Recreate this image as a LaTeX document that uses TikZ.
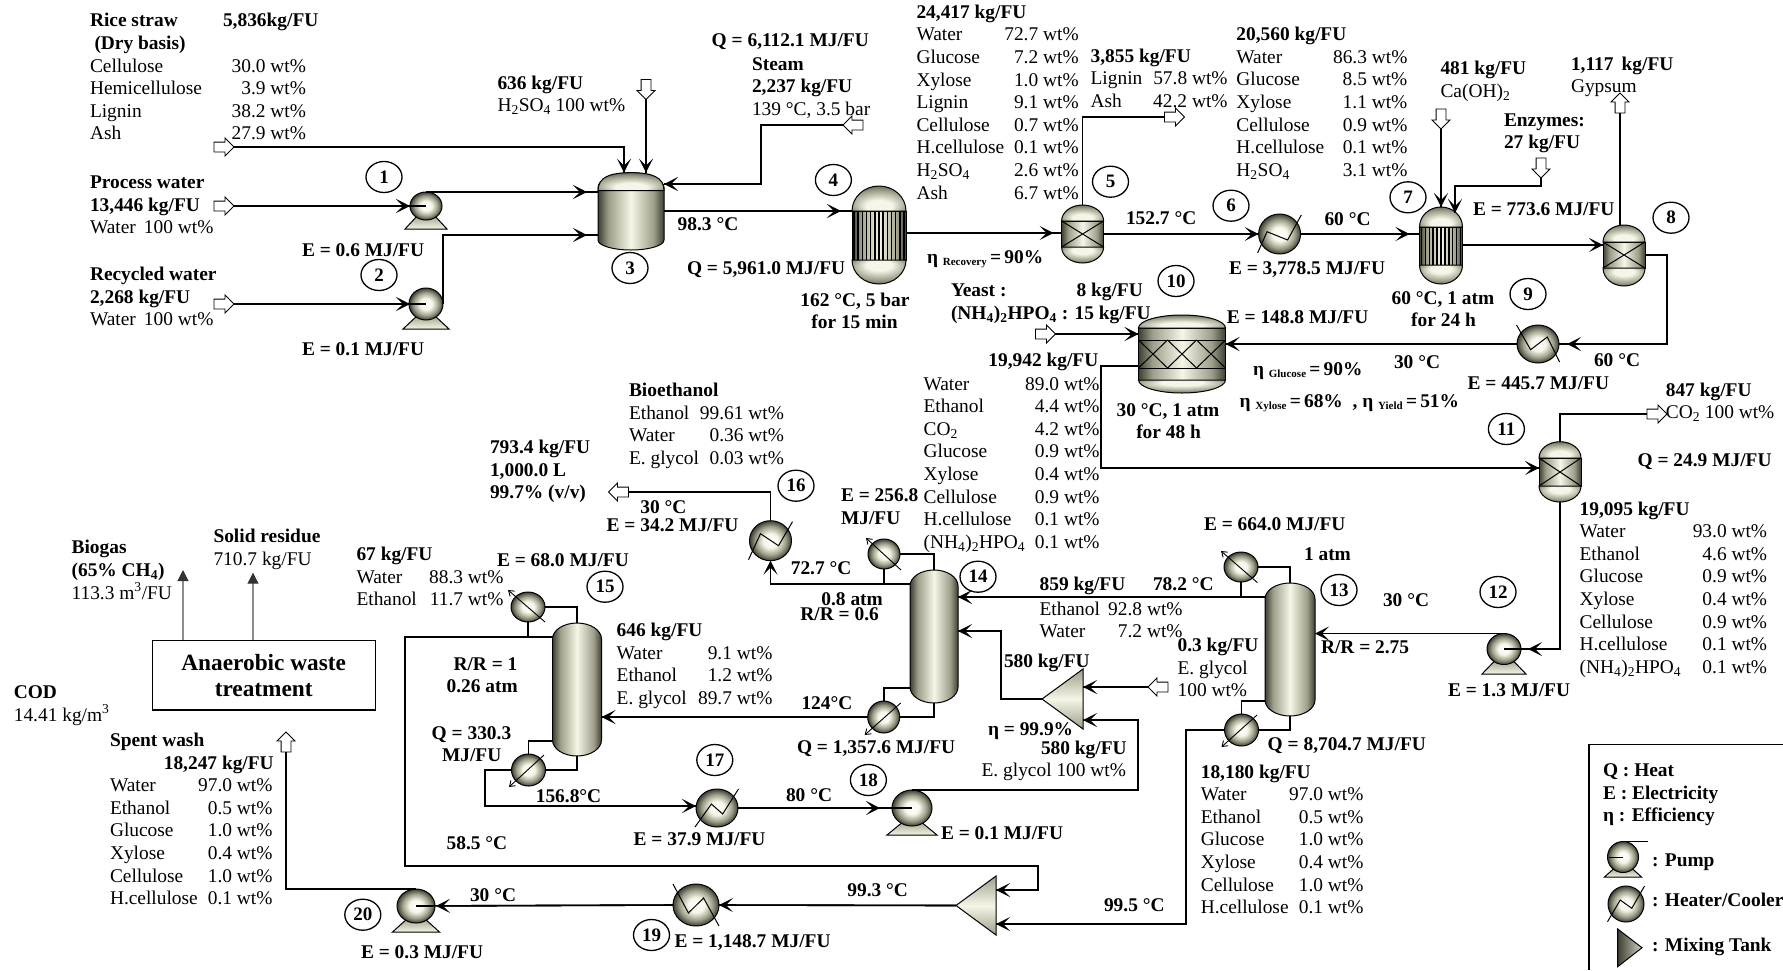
\documentclass[tikz,border=0pt]{standalone}
\usepackage{fontspec}
\setmainfont{Liberation Serif}
\usetikzlibrary{arrows.meta,shapes.geometric,shapes.arrows}
\definecolor{eqk}{HTML}{3E3E32}
\definecolor{eqm}{HTML}{9E9E8A}
\definecolor{eql}{HTML}{F6F6E8}
\pgfdeclarehorizontalshading{eqcyl}{100bp}{color(0bp)=(eqk); color(25bp)=(eqk); color(33bp)=(eqm); color(50bp)=(eql); color(67bp)=(eqm); color(75bp)=(eqk); color(100bp)=(eqk)}
\pgfdeclareradialshading{eqheadT}{\pgfpoint{0bp}{-20bp}}{color(0bp)=(eql); color(12bp)=(eql); color(26bp)=(eqm); color(38bp)=(eqk); color(50bp)=(eqk)}
\pgfdeclareradialshading{eqheadB}{\pgfpoint{0bp}{20bp}}{color(0bp)=(eql); color(12bp)=(eql); color(26bp)=(eqm); color(38bp)=(eqk); color(50bp)=(eqk)}
\pgfdeclareradialshading{eqball}{\pgfpoint{0bp}{0bp}}{color(0bp)=(white); color(9bp)=(eql); color(18bp)=(eqm); color(25bp)=(eqk); color(50bp)=(eqk)}
\tikzset{
  lab/.style={inner sep=0pt,outer sep=0pt,font=\fontsize{19.4}{22.6}\selectfont},
  eqbox/.style={rectangle,inner sep=0pt,outer sep=0pt},
  ballnode/.style={ellipse,inner sep=0pt,outer sep=0pt,draw=black,line width=1pt,shade,shading=eqball},
  pipe/.style={line width=1.6pt,draw=black},
  gf/.style={pipe,postaction={draw,shorten >=#1pt,-{Stealth[length=14pt,width=14pt,inset=7pt]}}},
  oarrow/.style={single arrow,draw=black,fill=white,line width=0.9pt,inner xsep=0pt,inner ysep=4.5pt,outer sep=0pt,minimum height=20pt,single arrow head extend=4pt,single arrow head indent=0pt},
  tagc/.style={ellipse,draw=black,line width=1.3pt,inner sep=0pt,minimum width=36pt,minimum height=31pt,font=\fontsize{19}{19}\selectfont\bfseries},
  diag/.style={line width=0.9pt,-{Straight Barb[length=5pt,width=7pt]}},
  zig/.style={line width=1pt},
  grayflow/.style={line width=1.1pt,draw=gray!90,-{Triangle[length=11pt,width=11pt,color=black!80]}}
}
\newcommand{\hso}{H\textsubscript{2}SO\textsubscript{4}}
\newcommand{\nhp}{(NH\textsubscript{4})\textsubscript{2}HPO\textsubscript{4}}
\newcommand{\esub}[1]{\raisebox{-2.5pt}{\fontsize{11}{11}\selectfont #1}}
\newcommand{\lbB}[4]{\node[lab,anchor=base west] (#1) at (#2,#3) {\textbf{#4}};}
\newcommand{\lbR}[4]{\node[lab,anchor=base west] (#1) at (#2,#3) {#4};}
\newcommand{\lbC}[4]{\node[lab,anchor=base] (#1) at (#2,#3) {\textbf{#4}};}
\newcommand{\blk}[5]{\node[lab,anchor=north west] (#1) at (#2,{#3-15.82}) {\begin{tabular*}{#4pt}{@{}l@{\extracolsep{\fill}}r@{}}#5\end{tabular*}};}
\newcommand{\hd}[1]{\multicolumn{2}{@{}l@{}}{\textbf{#1}}\\}
\newcommand{\tg}[4]{\node[tagc] (#1) at (#2,#3) {#4};}
% name cx top bandtop bandbot bot halfwidth
\newcommand{\eqv}[7]{%
  \pgfmathsetmacro\hdA{#4-#3}\pgfmathsetmacro\hdB{#6-#5}%
  \path[shade,shading=eqcyl,draw=black,line width=1pt] ({#2-#7},#4) rectangle ({#2+#7},#5);
  \path[shade,shading=eqheadT,draw=black,line width=1pt] ({#2-#7},#4) arc[start angle=180,end angle=0,x radius=#7pt,y radius=\hdA pt] -- cycle;
  \path[shade,shading=eqheadB,draw=black,line width=1pt] ({#2-#7},#5) arc[start angle=180,end angle=360,x radius=#7pt,y radius=\hdB pt] -- cycle;
  \node[eqbox,minimum width={2*#7*1pt},minimum height={(#6-#3)*1pt}] (#1) at (#2,{(#3+#6)/2}) {};
}
\newcommand{\tubes}[5]{\foreach \tbi in {-#5,...,#5}{\draw[line width=1.5pt] ({#1+\tbi*#2/(#5+0.5)},#3) -- ({#1+\tbi*#2/(#5+0.5)},#4);}}
\newcommand{\crs}[4]{\draw[line width=1pt] (#1,#3) -- (#2,#4) (#1,#4) -- (#2,#3);}
% name cx top bot halfwidth headtop headbot
\newcommand{\col}[7]{%
  \path[shade,shading=eqcyl,draw=black,line width=1pt] ({#2-#5},{#3+#6}) arc[start angle=180,end angle=0,x radius=#5pt,y radius=#6pt] -- ({#2+#5},{#4-#7}) arc[start angle=0,end angle=-180,x radius=#5pt,y radius=#7pt] -- cycle;
  \node[eqbox,minimum width={2*#5*1pt},minimum height={(#4-#3)*1pt}] (#1) at (#2,{(#3+#4)/2}) {};
}
\newcommand{\bal}[5]{\node[ballnode,minimum width={2*#4*1pt},minimum height={2*#5*1pt}] (#1) at (#2,#3) {};}
% name cx cy rx ry basebottom basehalf
\newcommand{\pmp}[7]{%
  \path[draw=black,line width=1pt,top color=eqm,bottom color=eql] ({#2-#7},#6) -- ({#2+#7},#6) -- ({#2+8},{#3+#5-5}) -- ({#2-8},{#3+#5-5}) -- cycle;
  \bal{#1}{#2}{#3}{#4}{#5}
}
\newcommand{\trileft}[5]{%
  \path[draw=black,line width=1pt,top color=eqm,bottom color=eqm,middle color=eql] (#2,{(#4+#5)/2}) -- (#3,#4) -- (#3,#5) -- cycle;
  \node[eqbox,minimum width={(#3-#2)*1pt},minimum height={(#5-#4)*1pt}] (#1) at ({(#2+#3)/2},{(#4+#5)/2}) {};
}
\newcommand{\zz}[9]{\draw[zig] ([shift={(#2,#3)}]#1.center) -- ([shift={(#4,#5)}]#1.center) -- ([shift={(#6,#7)}]#1.center) -- ([shift={(#8,#9)}]#1.center);}
\newcommand{\dg}[5]{\draw[diag] ([shift={(#2,#3)}]#1.center) -- ([shift={(#4,#5)}]#1.center);}
\begin{document}
\begin{tikzpicture}[x=1pt,y=-1pt]
\useasboundingbox (0,0) rectangle (1783,970);
\fill[white] (0,0) rectangle (1783,970);

% ---------- equipment ----------
\pmp{p1}{426}{206}{16}{14}{229}{21}
\pmp{p2}{426}{304}{17}{16}{329}{23}
\col{v3}{631}{172.7}{250}{33}{15}{10}
\path[shade,shading=eqheadT,draw=black,line width=1pt] (598,190.7) .. controls (598,177) and (610,172.7) .. (631,172.7) .. controls (652,172.7) and (664,177) .. (664,190.7) -- cycle;
\eqv{r4}{879}{186}{211}{260}{284}{27}
\tubes{879}{27}{211}{260}{6}
\eqv{s5}{1082.6}{205}{221}{247}{263}{21}
\crs{1061.6}{1103.6}{221}{247}
\bal{h6}{1279.6}{234}{21}{20}
\zz{h6}{-22}{19}{-12.6}{-2.3}{8}{6}{21.7}{-19}
\eqv{r7}{1441}{207}{227}{265}{284}{21.5}
\tubes{1441}{21.5}{227}{265}{5}
\eqv{s8}{1624}{225}{242}{268}{286}{21}
\crs{1603}{1645}{242}{268}
\bal{h9}{1538}{344}{21}{19}
\zz{h9}{-21.5}{-19}{-7.4}{5.7}{9.3}{-7}{21.6}{18}
\eqv{f10}{1182}{315}{328}{380}{393}{43.5}
\draw[line width=1pt] (1138.5,340) -- (1225.5,340) (1138.5,368) -- (1225.5,368);
\crs{1138.5}{1167.5}{340}{368}
\crs{1167.5}{1196.5}{340}{368}
\crs{1196.5}{1225.5}{340}{368}
\eqv{s11}{1560}{441.7}{458}{486}{502}{21}
\crs{1539}{1581}{458}{486}
\pmp{p12}{1504}{649}{17}{15.5}{674}{22}
\col{c13}{1290}{583}{716}{25}{16}{16}
\bal{k13}{1241}{567}{17}{15}
\dg{k13}{16.5}{15.7}{-20}{-16}
\bal{b13}{1241.5}{730}{17}{16}
\dg{b13}{15.5}{-15}{-20}{17}
\col{c14}{934}{570}{703}{24}{16}{16}
\bal{k14}{884}{554}{16}{15}
\dg{k14}{17}{16}{-18}{-16}
\bal{b14}{883.7}{717}{16}{16}
\dg{b14}{17}{-14}{-19}{18}
\col{c15}{577}{623}{756}{24.5}{16}{16}
\bal{k15}{528}{607}{17}{15}
\dg{k15}{17}{15}{-20}{-17}
\bal{b15}{528.5}{770}{17}{16}
\dg{b15}{15.5}{-15}{-19.5}{17}
\bal{h16}{770.5}{540.7}{21}{20}
\zz{h16}{-22}{19}{-10}{-7}{8}{5}{22}{-19}
\bal{h17}{717}{808}{21}{19}
\zz{h17}{-22}{19}{-5.6}{-4}{5.6}{6}{21.5}{-19}
\pmp{p18}{912}{808}{20}{18}{835}{25}
\bal{h19}{696}{905}{23}{21}
\zz{h19}{-23}{-21}{-7.6}{8}{7.6}{-7}{23}{21}
\pmp{p20}{416}{906}{19}{17}{932}{23.5}
\trileft{m1}{1042}{1083}{669}{729}
\trileft{m2}{956}{996}{876}{935}

% ---------- stream end arrows ----------
\node[oarrow] (ia) at (221.5,147) {};
\node[oarrow] (ic) at (221.5,206) {};
\node[oarrow] (id) at (221.5,304) {};
\node[oarrow,rotate=-90] (ib) at (646,87) {};
\node[oarrow,rotate=180] (ie) at (855.5,125) {};
\node[oarrow] (if) at (1172,117) {};
\node[oarrow,rotate=-90] (ig) at (1441,116.5) {};
\node[oarrow,rotate=-90] (ih) at (1541,165.5) {};
\node[oarrow,rotate=90] (ii) at (1620,105.5) {};
\node[oarrow] (ij) at (1043,334) {};
\node[oarrow] (ik) at (1654.5,414) {};
\node[oarrow,rotate=180] (il) at (1160.5,687) {};
\node[oarrow,rotate=180] (im) at (621,492) {};
\node[oarrow,rotate=90] (io) at (286,744.5) {};

% ---------- connectors ----------
\draw[gf=0] (ia.tip) -| (624,0 |- v3.north);
\draw[gf=0] (ib.tip) -- (ib.tip |- v3.north);
\draw[gf=16] (ic.tip) -- (p1.center);
\draw[gf=16] (id.tip) -- (p2.center);
\draw[gf=11] (p1.north) -- (v3.west |- p1.north);
\draw[gf=11] (p2.east) |- (v3.west |- 0,235);
\draw[gf=0] (ie.tip) -| (761,184) -- (v3.east |- 0,184);
\draw[gf=11] (v3.east |- 0,211) -- (r4.west |- 0,211);
\draw[gf=8] (r4.east |- 0,233) -- (s5.west |- 0,233);
\draw[pipe] (s5.north) |- (if.tail);
\draw[gf=0] (s5.east |- h6.center) -- (h6.west);
\draw[gf=10] (h6.east) -- (r7.west |- h6.east);
\draw[gf=0] (ig.tip) -- (r7.north);
\draw[gf=0] (ih.tip) |- (1455,186) -- (1455,213);
\draw[gf=0] (r7.east |- 0,245) -- (s8.west |- 0,245);
\draw[pipe] (s8.north -| ii.tail) -- (ii.tail);
\draw[gf=8] (s8.east |- 0,255) -| (1667,0 |- h9.east) -- (h9.east);
\draw[gf=0] (h9.west) -- (f10.east |- h9.west);
\draw[gf=0] (ij.tip) -- (f10.west |- ij.tip);
\draw[gf=0] (f10.west |- 0,365.7) -| (1101,468) -- (s11.west |- 0,468);
\draw[pipe] (s11.north) |- (ik.tail);
\draw[gf=24] (s11.south) |- (p12.center);
\draw[gf=0] (p12.north) -- (c13.east |- p12.north);
\draw[pipe] (c13.north) |- (k13.east);
\draw[pipe] (k13.south) -- (k13.south |- 0,597);
\draw[gf=0] (c13.west |- 0,597) -- (c14.east |- 0,597);
\draw[pipe] (c13.south) |- (b13.east);
\draw[pipe] (b13.north) |- (c13.west |- 0,701);
\draw[gf=0] (b13.west) -| (1186,924) -- (m2.east |- 0,924);
\draw[gf=0] (m2.west) -- (h19.east);
\draw[gf=20] (h19.west) -- (p20.center);
\draw[pipe] (p20.north) -| (io.tail);
\draw[gf=0] (il.tip) -- (m1.east |- il.tip);
\draw[gf=0] (p18.north) -| (1138,720) -- (m1.east |- 0,720);
\draw[gf=0] (m1.west) -| (1001,631) -- (c14.east |- 0,631);
\draw[pipe] (c14.south) |- (b14.east);
\draw[pipe] (b14.north) |- (c14.west |- 0,688);
\draw[gf=0] (b14.west) -- (c15.east |- b14.west);
\draw[pipe] (c14.north) |- (k14.east);
\draw[pipe] (k14.south) -- (k14.south |- 0,584);
\draw[gf=0] (c14.west |- 0,584) -| (h16.south);
\draw[pipe] (h16.north) |- (im.tail);
\draw[pipe] (c15.north) |- (k15.east);
\draw[pipe] (k15.south) -- (k15.south |- 0,636.7);
\draw[gf=0] (c15.west |- 0,636.7) -| (405,866) -| (1038,890) -- (m2.east |- 0,890);
\draw[pipe] (c15.south) |- (b15.east);
\draw[pipe] (b15.north) |- (c15.west |- 0,740.7);
\draw[gf=0] (b15.west) -| (485,806) -- (h17.west |- 0,806);
\draw[gf=32] (h17.east) -- (p18.center);

% ---------- waste treatment ----------
\node[draw=black,line width=1.4pt,inner sep=0pt,minimum width=223pt,minimum height=69.3pt] (awt) at (263.8,675.3) {};
\node[inner sep=0pt,anchor=base,font=\fontsize{23.3}{26.7}\selectfont\bfseries] (awt1) at (263.7,670) {Anaerobic waste};
\node[inner sep=0pt,anchor=base,font=\fontsize{23.3}{26.7}\selectfont\bfseries] (awt2) at (263.7,696.7) {treatment};
\coordinate (gb) at (183,570);
\coordinate (gs) at (253,572.7);
\draw[grayflow] (awt.north -| gb) -- (gb);
\draw[grayflow] (awt.north -| gs) -- (gs);

% ---------- tags ----------
\tg{n1}{384}{177}{1}
\tg{n2}{379}{275}{2}
\tg{n3}{630}{268}{3}
\tg{n4}{833.4}{180}{4}
\tg{n5}{1110.5}{181.7}{5}
\tg{n6}{1231}{205.7}{6}
\tg{n7}{1408}{197.3}{7}
\tg{n8}{1671}{217.7}{8}
\tg{n9}{1528}{294}{9}
\tg{n10}{1176}{281}{10}
\tg{n11}{1506.4}{429}{11}
\tg{n12}{1498}{592}{12}
\tg{n13}{1339}{590}{13}
\tg{n14}{978}{576.7}{14}
\tg{n15}{605}{586.7}{15}
\tg{n16}{796}{485.7}{16}
\tg{n17}{714.8}{760}{17}
\tg{n18}{868.4}{780}{18}
\tg{n19}{651.5}{935}{19}
\tg{n20}{362.8}{914.7}{20}

% ---------- upper left text ----------
\lbB{ta1}{90}{26.7}{Rice straw}
\lbB{ta2}{223}{26.7}{5,836kg/FU}
\lbB{ta3}{94.5}{49.3}{(Dry basis)}
\blk{ba}{90}{72}{216}{Cellulose & 30.0 wt\%\\ Hemicellulose & 3.9 wt\%\\ Lignin & 38.2 wt\%\\ Ash & 27.9 wt\%\\}
\lbB{tb1}{90}{188}{Process water}
\lbB{tb2}{90}{211}{13,446 kg/FU}
\lbR{tb3}{90}{233}{Water\, 100 wt\%}
\lbB{tc1}{90}{280.7}{Recycled water}
\lbB{tc2}{90}{303}{2,268 kg/FU}
\lbR{tc3}{90}{325.7}{Water\, 100 wt\%}
\lbB{td1}{302}{256.7}{E = 0.6 MJ/FU}
\lbB{td2}{302}{355}{E = 0.1 MJ/FU}
\lbB{te1}{497.5}{89}{636 kg/FU}
\lbR{te2}{497.5}{111.7}{\hso\ 100 wt\%}
\lbB{tf1}{711.7}{46}{Q = 6,112.1 MJ/FU}
\lbB{tf2}{752}{70}{Steam}
\lbB{tf3}{752}{92.7}{2,237 kg/FU}
\lbR{tf4}{752}{115}{139 °C, 3.5 bar}
\lbB{tg1}{677.7}{230}{98.3 °C}
\lbB{tg2}{687}{274}{Q = 5,961.0 MJ/FU}
\lbC{tg3}{855}{306}{162 °C, 5 bar}
\lbC{tg4}{854.5}{328}{for 15 min}
\lbB{tg5}{927}{263}{η \esub{Recovery}\,=\,90\%}
\blk{bb}{916.5}{18.3}{158}{\hd{24,417 kg/FU} Water & 72.7 wt\%\\ Glucose & 7.2 wt\%\\ Xylose & 1.0 wt\%\\ Lignin & 9.1 wt\%\\ Cellulose & 0.7 wt\%\\ H.cellulose & 0.1 wt\%\\ \hso & 2.6 wt\%\\ Ash & 6.7 wt\%\\}
\blk{bc}{1090.6}{62.3}{137}{\hd{3,855 kg/FU} Lignin & 57.8 wt\%\\ Ash & 42.2 wt\%\\}
\lbB{th1}{1126}{224}{152.7 °C}
\blk{bd}{1236.4}{40.7}{171}{\hd{20,560 kg/FU} Water & 86.3 wt\%\\ Glucose & 8.5 wt\%\\ Xylose & 1.1 wt\%\\ Cellulose & 0.9 wt\%\\ H.cellulose & 0.1 wt\%\\ \hso & 3.1 wt\%\\}
\lbB{ti1}{1440.5}{74.3}{481 kg/FU}
\lbR{ti2}{1440.5}{97.3}{Ca(OH)\textsubscript{2}}
\lbB{ti3}{1571}{70}{1,117\, kg/FU}
\lbR{ti4}{1571}{92.7}{Gypsum}
\lbB{ti5}{1504}{126}{Enzymes:}
\lbB{ti6}{1504}{148.3}{27 kg/FU}
\lbB{tj1}{1324.5}{225}{60 °C}
\lbB{tj2}{1229}{274}{E = 3,778.5 MJ/FU}
\lbB{tj3}{1473}{215.7}{E = 773.6 MJ/FU}
\lbC{tj4}{1443}{304}{60 °C, 1 atm}
\lbC{tj5}{1443.5}{326.7}{for 24 h}
\lbB{tj6}{1226.8}{323}{E = 148.8 MJ/FU}
\lbB{tj7}{1394}{368}{30 °C}
\lbB{tj8}{1594}{366.7}{60 °C}
\lbB{tj9}{1467.6}{389}{E = 445.7 MJ/FU}
\lbB{tk1}{951}{296.7}{Yeast :}
\lbB{tk2}{1076.5}{296.7}{8 kg/FU}
\lbB{tk3}{951}{319.3}{\nhp\ : 15 kg/FU}
\lbB{tk4}{988.4}{366.7}{19,942 kg/FU}
\blk{be}{923.6}{390}{173.5}{Water & 89.0 wt\%\\ Ethanol & 4.4 wt\%\\ CO\textsubscript{2} & 4.2 wt\%\\ Glucose & 0.9 wt\%\\ Xylose & 0.4 wt\%\\ Cellulose & 0.9 wt\%\\ H.cellulose & 0.1 wt\%\\ \nhp & 0.1 wt\%\\}
\lbB{tl1}{1253}{375}{η \esub{Glucose}\,=\,90\%}
\lbB{tl2}{1239.5}{407}{η \esub{Xylose}\,=\,68\%\ \ , η \esub{Yield}\,=\,51\%}
\lbC{tl3}{1168}{416}{30 °C, 1 atm}
\lbC{tl4}{1168.6}{438}{for 48 h}
\lbB{tm1}{1665.8}{396}{847 kg/FU}
\lbR{tm2}{1665.8}{418}{CO\textsubscript{2} 100 wt\%}
\lbB{tm3}{1637.6}{466.7}{Q = 24.9 MJ/FU}
\blk{bf}{1579.6}{515}{187.5}{\hd{19,095 kg/FU} Water & 93.0 wt\%\\ Ethanol & 4.6 wt\%\\ Glucose & 0.9 wt\%\\ Xylose & 0.4 wt\%\\ Cellulose & 0.9 wt\%\\ H.cellulose & 0.1 wt\%\\ \nhp & 0.1 wt\%\\}
\lbB{tn1}{1383}{606.7}{30 °C}
\lbB{tn2}{1304}{560}{1 atm}
\lbB{tn3}{1204}{530}{E = 664.0 MJ/FU}
\lbB{tn4}{1153}{590.7}{78.2 °C}
\lbB{tn5}{1039.6}{590.7}{859 kg/FU}
\blk{bg}{1039.6}{615}{143}{Ethanol & 92.8 wt\%\\ Water & 7.2 wt\%\\}
\lbB{tn6}{1177.6}{651.7}{0.3 kg/FU}
\lbR{tn7}{1177.6}{674}{E. glycol}
\lbR{tn8}{1177.6}{696.7}{100 wt\%}
\lbB{tn9}{1321}{653}{R/R = 2.75}
\lbB{tn10}{1448}{696.7}{E = 1.3 MJ/FU}
\lbB{tn11}{1004}{667}{580 kg/FU}
\lbB{to1}{1267.7}{750.7}{Q = 8,704.7 MJ/FU}
\blk{bh}{1200.8}{778}{162.7}{\hd{18,180 kg/FU} Water & 97.0 wt\%\\ Ethanol & 0.5 wt\%\\ Glucose & 1.0 wt\%\\ Xylose & 0.4 wt\%\\ Cellulose & 1.0 wt\%\\ H.cellulose & 0.1 wt\%\\}

% ---------- centre and lower text ----------
\lbB{tp1}{629}{396}{Bioethanol}
\blk{bi}{629}{419}{155}{Ethanol & 99.61 wt\%\\ Water & 0.36 wt\%\\ E. glycol & 0.03 wt\%\\}
\lbB{tp2}{490}{453.3}{793.4 kg/FU}
\lbB{tp3}{490}{476}{1,000.0 L}
\lbB{tp4}{490}{498}{99.7\% (v/v)}
\lbB{tp5}{640.4}{513}{30 °C}
\lbB{tp6}{606.7}{531}{E = 34.2 MJ/FU}
\lbB{tp7}{841}{501}{E = 256.8}
\lbB{tp8}{841}{524}{MJ/FU}
\lbB{tp9}{790.8}{574}{72.7 °C}
\lbB{tp10}{821.4}{605}{0.8 atm}
\lbB{tp11}{800.4}{620}{R/R = 0.6}
\blk{bj}{356.5}{560.7}{147}{\hd{67 kg/FU} Water & 88.3 wt\%\\ Ethanol & 11.7 wt\%\\}
\lbB{tq1}{497}{566.7}{E = 68.0 MJ/FU}
\blk{bk}{616.7}{636.7}{155.7}{\hd{646 kg/FU} Water & 9.1 wt\%\\ Ethanol & 1.2 wt\%\\ E. glycol & 89.7 wt\%\\}
\lbB{tq2}{453.5}{670}{R/R = 1}
\lbB{tq3}{446.6}{692.7}{0.26 atm}
\lbB{tq4}{431.7}{739}{Q = 330.3}
\lbB{tq5}{442}{761.7}{MJ/FU}
\lbB{tq6}{535.8}{802.7}{156.8°C}
\lbB{tq7}{446.6}{849.3}{58.5 °C}
\lbB{tq8}{801.5}{709.3}{124°C}
\lbB{tq9}{797}{753}{Q = 1,357.6 MJ/FU}
\lbB{tq10}{988}{735.7}{η = 99.9\%}
\lbB{tq11}{1041}{754.3}{580 kg/FU}
\lbR{tq12}{981.6}{776.7}{E. glycol 100 wt\%}
\lbB{tq13}{786}{801}{80 °C}
\lbB{tq14}{633.7}{845.7}{E = 37.9 MJ/FU}
\lbB{tq15}{941}{839}{E = 0.1 MJ/FU}
\lbB{tq16}{847.4}{896}{99.3 °C}
\lbB{tq17}{1104}{911.7}{99.5 °C}
\lbB{tq18}{674.5}{947.3}{E = 1,148.7 MJ/FU}
\lbB{tq19}{470}{901.7}{30 °C}
\lbB{tq20}{361}{958.3}{E = 0.3 MJ/FU}
\lbB{tr1}{71.6}{553.3}{Biogas}
\lbB{tr2}{71.6}{576.7}{(65\% CH\textsubscript{4})}
\lbR{tr3}{71.6}{599}{113.3 m\textsuperscript{3}/FU}
\lbB{tr4}{213.5}{542.7}{Solid residue}
\lbR{tr5}{213.5}{565}{710.7 kg/FU}
\lbB{tr6}{13.8}{698.3}{COD}
\lbR{tr7}{13.8}{721}{14.41 kg/m\textsuperscript{3}}
\lbB{tr8}{110}{746.7}{Spent wash}
\lbB{tr9}{163.8}{769}{18,247 kg/FU}
\blk{bl}{110}{791.7}{162.5}{Water & 97.0 wt\%\\ Ethanol & 0.5 wt\%\\ Glucose & 1.0 wt\%\\ Xylose & 0.4 wt\%\\ Cellulose & 1.0 wt\%\\ H.cellulose & 0.1 wt\%\\}

% ---------- legend ----------
\coordinate (lgA) at (1783,744.3);
\coordinate (lgB) at (1589,744.3);
\coordinate (lgC) at (1589,970);
\draw[line width=1.4pt] (lgA) -- (lgB) -- (lgC);
\lbB{ts1}{1603}{776}{Q : Heat}
\lbB{ts2}{1603}{799}{E : Electricity}
\lbB{ts3}{1603}{821.7}{η : Efficiency}
\pmp{lp}{1623}{857}{15.5}{15.5}{877}{18.5}
\draw[line width=1pt] (lp.north) -- ++(25,0);
\draw[line width=1pt] (lp.center) -- ++(-14,0);
\lbB{ts4}{1652}{866.7}{: Pump}
\bal{lh}{1626}{904}{18}{18}
\zz{lh}{-18.5}{17.7}{-5.8}{-4}{5.8}{4.3}{18.5}{-18}
\lbB{ts5}{1652}{906}{: Heater/Cooler}
\path[draw=black,line width=1pt,left color=eqk,right color=eql!60!eqm] (1617.7,929) -- (1642,947.7) -- (1617.7,966.7) -- cycle;
\node[eqbox,minimum width=24pt,minimum height=37pt] (lm) at (1630,948) {};
\lbB{ts6}{1652}{951.7}{: Mixing Tank}
\end{tikzpicture}
\end{document}
